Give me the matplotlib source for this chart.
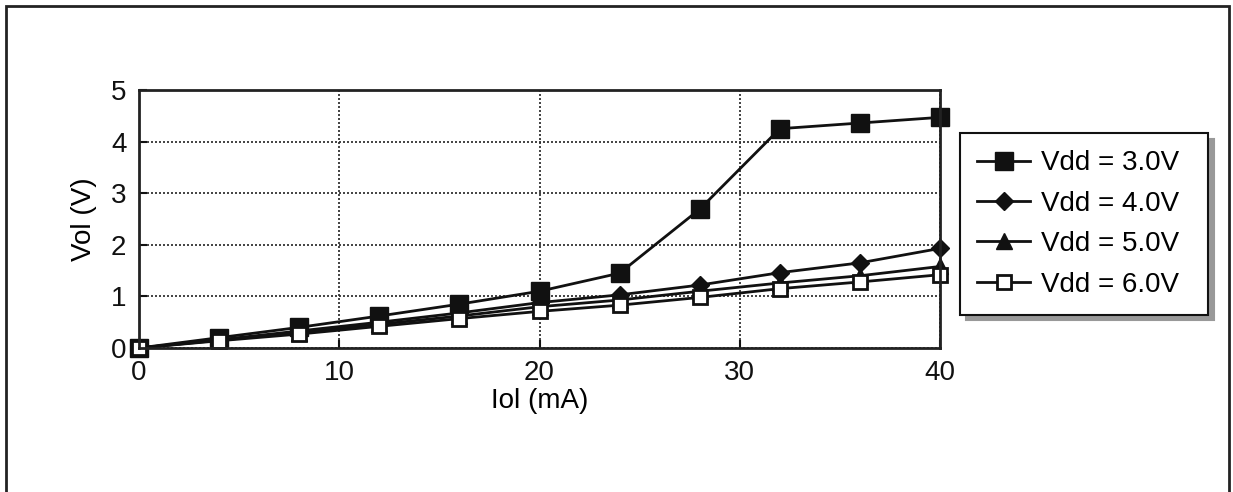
import matplotlib.pyplot as plt
import matplotlib.patches as mpatches

plt.rcParams["font.family"] = ["Liberation Sans", "DejaVu Sans"]

# data
iol = [0, 4, 8, 12, 16, 20, 24, 28, 32, 36, 40]
vol_3v = [0, 0.20, 0.40, 0.62, 0.85, 1.10, 1.45, 2.69, 4.25, 4.36, 4.47]
vol_4v = [0, 0.16, 0.33, 0.50, 0.68, 0.88, 1.03, 1.22, 1.46, 1.65, 1.93]
vol_5v = [0, 0.15, 0.30, 0.46, 0.62, 0.80, 0.93, 1.10, 1.26, 1.40, 1.58]
vol_6v = [0, 0.14, 0.27, 0.42, 0.57, 0.71, 0.83, 0.98, 1.15, 1.28, 1.42]
labels = ["Vdd = 3.0V", "Vdd = 4.0V", "Vdd = 5.0V", "Vdd = 6.0V"]

W, H = 1233, 492
fig = plt.figure(figsize=(W/100, H/100), dpi=100)
ax = fig.add_axes([139/W, 1-348/H, (940-139)/W, (348-90)/H])

# outer frame
fig.patches.append(mpatches.Rectangle((6/W, -0.1), (1229-6)/W, 1.1-6/H,
                                      transform=fig.transFigure, fill=False,
                                      edgecolor="#222222", linewidth=2))

series = [
    (vol_3v, dict(marker="s", markersize=12.5, mfc="#111111", mec="#111111")),
    (vol_4v, dict(marker="D", markersize=9.5, mfc="#111111", mec="#111111")),
    (vol_5v, dict(marker="^", markersize=12, mfc="#111111", mec="#111111")),
    (vol_6v, dict(marker="s", markersize=10.5, mfc="white", mec="#111111", mew=2)),
]
for (vals, st), lbl in zip(series, labels):
    ax.plot(iol, vals, color="#111111", linewidth=2, label=lbl, clip_on=False, **st)

ax.set_xlim(0, 40)
ax.set_ylim(0, 5)
ax.set_xticks([0, 10, 20, 30, 40])
ax.set_yticks([0, 1, 2, 3, 4, 5])
ax.tick_params(direction="in", length=6, width=1.5, labelsize=20, pad=9, colors="#111111")
ax.grid(True, linestyle=(0, (1.2, 1.2)), color="#222222", linewidth=1.2)
for s in ax.spines.values():
    s.set_linewidth(2)
    s.set_color("#222222")
ax.set_xlabel("Iol (mA)", fontsize=20, labelpad=1)
ax.set_ylabel("Vol (V)", fontsize=20, labelpad=10)

leg = fig.legend(loc="upper left", bbox_to_anchor=(960/W, 1-313/H, 248/W, 180/H),
                 mode="expand", fontsize=20,
                 frameon=True, fancybox=False, edgecolor="#111111", handlelength=1.9,
                 labelspacing=0.52, borderpad=0.62, handletextpad=0.4, borderaxespad=0,
                 shadow={"ox": 4, "oy": -4, "color": "#999999", "alpha": 1})
leg.get_frame().set_linewidth(1.5)

fig.savefig("out.png", dpi=100)
